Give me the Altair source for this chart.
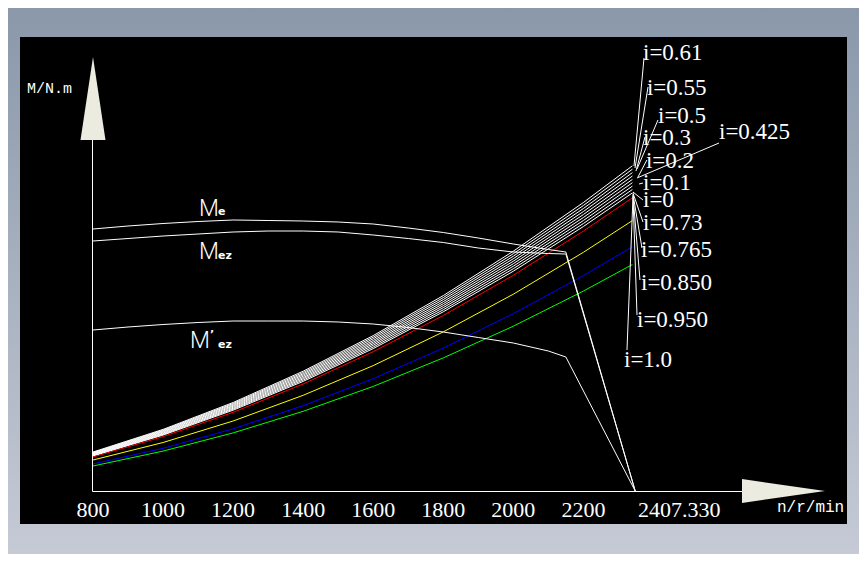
import altair as alt
import pandas as pd

# ---------------- data ----------------
# i-curves (M vs n)
n_i = [800, 1000, 1200, 1400, 1600, 1800, 2000, 2200, 2340]
i_labels = ["i=0.61", "i=0.55", "i=0.5", "i=0.425", "i=0.3", "i=0.2", "i=0.1",
            "i=0", "i=0.73", "i=0.765", "i=0.850", "i=0.950", "i=1.0"]
i_colors = ["#ffffff"] * 9 + ["#ff0000", "#ffff00", "#0000ff", "#00ff00"]
i_values = [
    [39.0, 61.6, 88.5, 119.8, 155.4, 195.4, 239.8, 288.5, 325.2],
    [38.5, 60.9, 87.5, 118.5, 153.8, 193.4, 237.3, 285.5, 321.8],
    [38.0, 60.2, 86.6, 117.2, 152.2, 191.4, 234.8, 282.5, 318.4],
    [37.5, 59.5, 85.6, 116.0, 150.5, 189.3, 232.3, 279.5, 315.0],
    [37.0, 58.8, 84.7, 114.7, 148.9, 187.3, 229.8, 276.5, 311.6],
    [36.5, 58.0, 83.7, 113.4, 147.3, 185.3, 227.3, 273.5, 308.3],
    [36.0, 57.3, 82.7, 112.2, 145.7, 183.3, 224.8, 270.5, 304.9],
    [35.5, 56.6, 81.8, 110.9, 144.0, 181.2, 222.3, 267.5, 301.5],
    [35.0, 55.9, 80.8, 109.6, 142.4, 179.2, 219.8, 264.5, 298.1],
    [34.0, 54.4, 78.7, 107.0, 139.3, 175.5, 215.7, 259.9, 293.2],
    [31.0, 48.5, 70.0, 95.7, 125.4, 159.1, 196.8, 238.7, 270.4],
    [27.0, 42.7, 62.2, 85.3, 112.3, 142.9, 177.3, 215.4, 244.3],
    [25.0, 39.9, 58.1, 79.7, 104.6, 133.1, 164.8, 199.9, 226.5],
]

# engine torque curves
n_m = [800, 900, 1000, 1100, 1200, 1300, 1400, 1500, 1600, 1700, 1800,
       1900, 2000, 2100, 2150, 2348]
m_e = [262, 265, 267.5, 269.5, 271, 270.5, 270, 269, 267, 263, 258.5,
       253, 247, 241.5, 239, 0]
m_ez = [250, 252.5, 255, 257, 259, 260, 260, 259, 256, 252.5, 248.5,
        243, 239, 237.5, 237, 0]
m_ez_p = [161, 164, 166.5, 168.5, 170, 170, 170, 169, 167, 163.5, 159,
          153.5, 148, 140, 134, 0]

# label anchors and leader lines for the i-curves (data units)
lab_n = [2370.2, 2381.3, 2413.0, 2587.2, 2370.2, 2378.7, 2370.2,
         2370.2, 2370.2, 2364.5, 2364.5, 2353.1, 2316.0]
lab_m = [431, 396, 368, 352, 346, 323, 301, 284, 261, 234, 201, 164, 124]
lead_n0 = [2344.5, 2347.4, 2353.1, 2353.1, 2350.2, 2355.9, 2358.8,
           2341.6, 2341.6, 2341.6, 2341.6, 2341.6, 2341.6]
lead_m0 = [325, 323, 322, 313, 320, 314, 307, 299, 298, 297, 296, 295, 294]
lead_n1 = [2373.1, 2384.5, 2413.0, 2587.2, 2375.9, 2381.3, 2370.2,
           2370.2, 2370.2, 2367.3, 2361.6, 2353.1, 2324.5]
lead_m1 = [433, 404, 371, 348, 354, 331, 308, 291, 269, 243, 211, 176, 141]

# curve names
name_main = ["M", "M", "M"]
name_main_n = [1102.6, 1102.6, 1076.9]
name_main_m = [275, 232, 143]
name_sub = ["e", "ez", "’", "ez"]
name_sub_n = [1156.9, 1156.9, 1134.0, 1156.9]
name_sub_m = [276, 232, 153, 143]

# tick labels
tick_values = [800, 1000, 1200, 1400, 1600, 1800, 2000, 2200]
tick_text = ["800", "1000", "1200", "1400", "1600", "1800", "2000", "2200"]
end_value = [2407.33]
end_text = ["2407.330"]

# ---------------- tables ----------------
rows = []
for k, (lab, col, vals) in enumerate(zip(i_labels, i_colors, i_values)):
    for n, m in zip(n_i, vals):
        rows.append({"n": n, "M": m, "curve": lab, "color": col})
for name, vals in [("Me", m_e), ("Mez", m_ez), ("M'ez", m_ez_p)]:
    for n, m in zip(n_m, vals):
        rows.append({"n": n, "M": m, "curve": name, "color": "#ffffff"})
curves = pd.DataFrame(rows)

labels = pd.DataFrame({"n": lab_n, "M": lab_m, "t": i_labels})
leaders = pd.DataFrame({"n0": lead_n0, "M0": lead_m0, "n1": lead_n1, "M1": lead_m1})
names_main = pd.DataFrame({"n": name_main_n, "M": name_main_m, "t": name_main})
names_sub = pd.DataFrame({"n": name_sub_n, "M": name_sub_m, "t": name_sub})
ticks = pd.DataFrame({"n": tick_values, "M": [-26] * len(tick_values), "t": tick_text})
ticks_end = pd.DataFrame({"n": end_value, "M": [-26], "t": end_text})
one = pd.DataFrame({"k": [0]})

xs = alt.Scale(domain=[800, 2407.33], range=[85, 648], nice=False, zero=False)
ys = alt.Scale(domain=[0, 400], range=[483, 83], nice=False, zero=False)

W, H = 851, 546

grad = alt.LinearGradient(
    gradient="linear",
    stops=[alt.GradientStop(color="#8a98aa", offset=0),
           alt.GradientStop(color="#c5cad5", offset=1)],
    x1=0, x2=0, y1=0, y2=1,
)

bg = alt.Chart(one).mark_rect(color=grad).encode(
    x=alt.value(0), x2=alt.value(W), y=alt.value(0), y2=alt.value(H))
frame = alt.Chart(one).mark_rect(color="#000000").encode(
    x=alt.value(12), x2=alt.value(839), y=alt.value(29), y2=alt.value(516))

y_axis = alt.Chart(one).mark_rule(color="#ffffff", strokeWidth=1).encode(
    x=alt.value(84.5), y=alt.value(120), y2=alt.value(483.5))
x_axis = alt.Chart(one).mark_rule(color="#ffffff", strokeWidth=1).encode(
    x=alt.value(84.5), x2=alt.value(736), y=alt.value(483.5))

arrow_up = alt.Chart(one).mark_point(
    shape="M0,-1L0.301,1L-0.301,1Z", filled=True, size=6889,
    color="#ecebdf", opacity=1, strokeWidth=0).encode(
    x=alt.value(85), y=alt.value(90.5))
arrow_right = alt.Chart(one).mark_point(
    shape="M1,0L-1,-0.289L-1,0.289Z", filled=True, size=6889,
    color="#ecebdf", opacity=1, strokeWidth=0).encode(
    x=alt.value(775.5), y=alt.value(483))

lines = alt.Chart(curves).mark_line(strokeWidth=1).encode(
    x=alt.X("n:Q", scale=xs, axis=None),
    y=alt.Y("M:Q", scale=ys, axis=None),
    detail="curve:N",
    color=alt.Color("color:N", scale=None),
)

lead = alt.Chart(leaders).mark_rule(color="#ffffff", strokeWidth=1).encode(
    x=alt.X("n0:Q", scale=xs, axis=None), x2="n1:Q",
    y=alt.Y("M0:Q", scale=ys, axis=None), y2="M1:Q")

ilab = alt.Chart(labels).mark_text(
    align="left", baseline="alphabetic", font="Liberation Serif",
    fontSize=23, color="#ffffff").encode(
    x=alt.X("n:Q", scale=xs, axis=None), y=alt.Y("M:Q", scale=ys, axis=None),
    text="t:N")

tlab = alt.Chart(ticks).mark_text(
    align="center", baseline="alphabetic", font="Liberation Serif",
    fontSize=22, color="#ffffff").encode(
    x=alt.X("n:Q", scale=xs, axis=None), y=alt.Y("M:Q", scale=ys, axis=None),
    text="t:N")
tend = alt.Chart(ticks_end).mark_text(
    align="left", baseline="alphabetic", font="Liberation Serif",
    fontSize=22, color="#ffffff", dx=-18).encode(
    x=alt.X("n:Q", scale=xs, axis=None), y=alt.Y("M:Q", scale=ys, axis=None),
    text="t:N")

nmain = alt.Chart(names_main).mark_text(
    align="left", baseline="alphabetic", font="Roboto", fontWeight=300,
    fontSize=23, color="#ffffff").encode(
    x=alt.X("n:Q", scale=xs, axis=None), y=alt.Y("M:Q", scale=ys, axis=None),
    text="t:N")
nsub = alt.Chart(names_sub).mark_text(
    align="left", baseline="alphabetic", font="DejaVu Sans", fontWeight="bold",
    fontSize=11, color="#ffffff").encode(
    x=alt.X("n:Q", scale=xs, axis=None), y=alt.Y("M:Q", scale=ys, axis=None),
    text="t:N")

ytitle = alt.Chart(one).mark_text(
    align="left", baseline="alphabetic", font="Liberation Mono", fontSize=15,
    color="#ffffff", text="M/N.m").encode(x=alt.value(19), y=alt.value(85))
xtitle = alt.Chart(one).mark_text(
    align="left", baseline="alphabetic", font="Liberation Mono", fontSize=16,
    color="#ffffff", text="n/r/min").encode(x=alt.value(769), y=alt.value(504))

chart = alt.layer(
    bg, frame, y_axis, x_axis, arrow_up, arrow_right,
    lines, lead, ilab, tlab, tend, nmain, nsub, ytitle, xtitle,
).properties(
    width=W, height=H,
    autosize=alt.AutoSizeParams(type="none"),
    padding=0,
    background="#a6b0c0",
).configure_view(strokeWidth=0)

chart.save("out.html", embed_options={"renderer": "svg", "actions": False})
